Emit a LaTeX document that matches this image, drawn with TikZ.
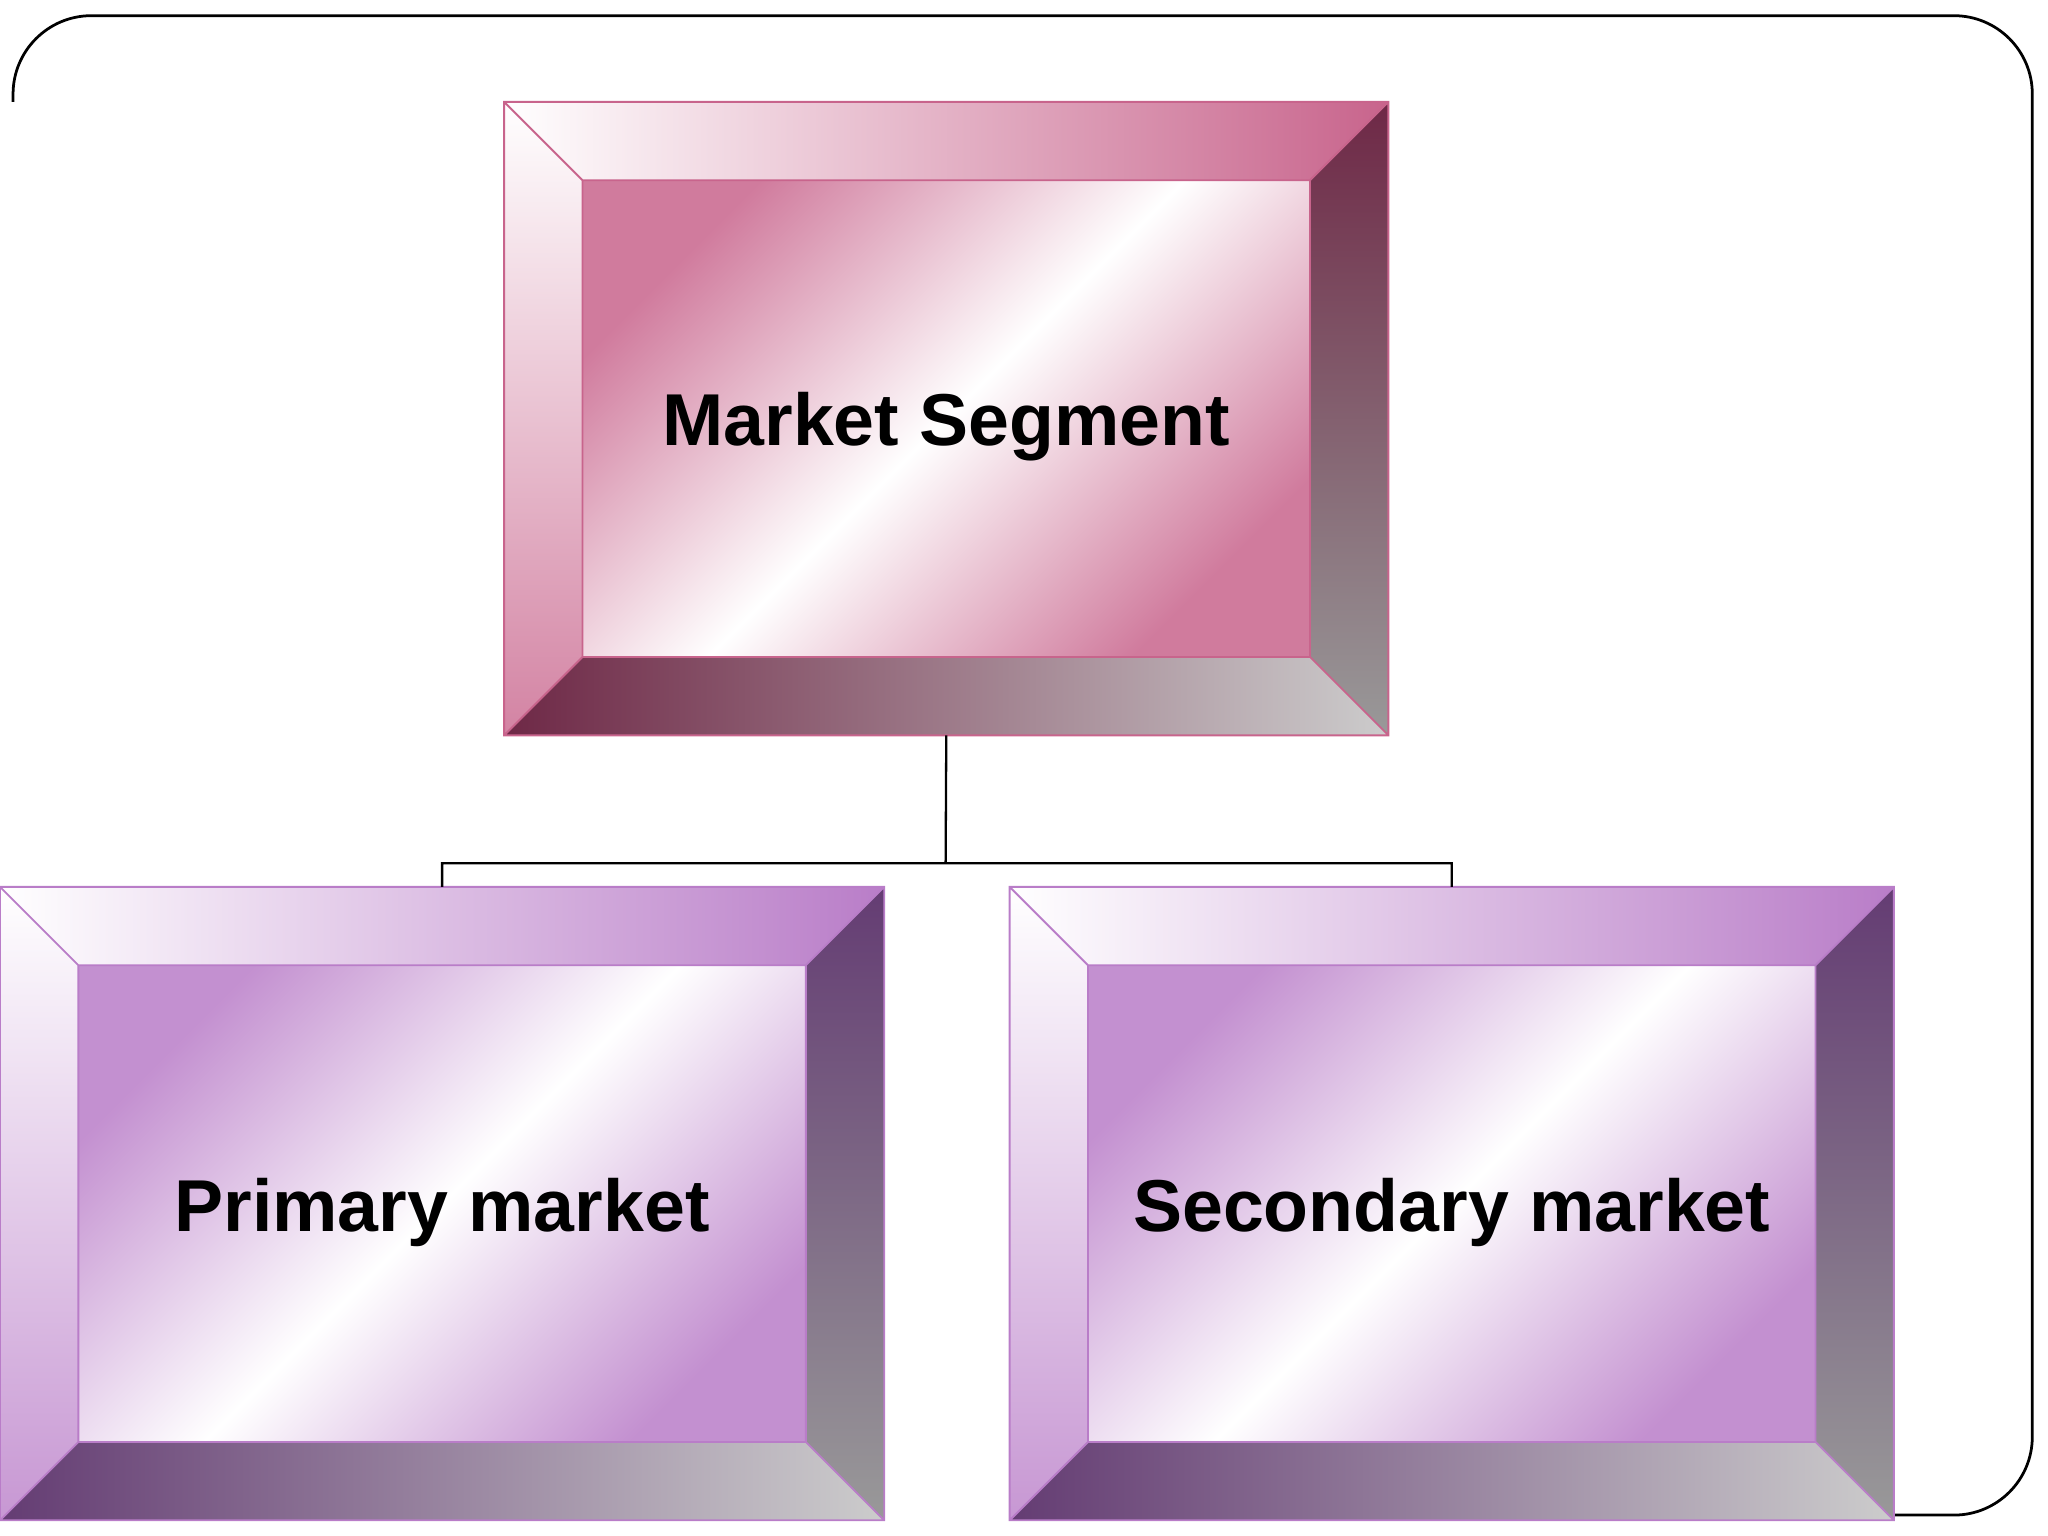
\documentclass[tikz,border=0pt]{standalone}
\usepackage{fontspec}
\setmainfont{Liberation Sans}
\begin{document}
\begin{tikzpicture}[x=0.01cm,y=-0.01cm,
  lbl/.style={font=\bfseries\fontsize{16}{19}\selectfont,text=black},
  conn/.style={draw=black,line width=0.5pt}]
\useasboundingbox (0,0) rectangle (1568,1176);
\draw[line width=0.6pt,rounded corners=0.6cm] (10,78) -- (10,12) -- (1556,12) -- (1556,1160) -- (1450,1160);
\newcommand{\bevbox}[6]{%
 \begin{scope}[shift={(#1,#2)}]
  \shade[left color=white,right color=#3] (0,0) -- (677,0) -- (617,60) -- (60,60) -- cycle;
  \shade[top color=#4,bottom color=gray!80] (677,0) -- (677,485) -- (617,425) -- (617,60) -- cycle;
  \shade[left color=#4,right color=gray!40] (0,485) -- (677,485) -- (617,425) -- (60,425) -- cycle;
  \shade[top color=white,bottom color=#3!80] (0,0) -- (60,60) -- (60,425) -- (0,485) -- cycle;
  \shade[top color=#3!85,bottom color=#3!85,middle color=white,shading angle=45] (60,60) rectangle (617,425);
  \draw[#3,line width=0.4pt] (0,0) rectangle (677,485) (60,60) rectangle (617,425)
    (0,0)--(60,60) (677,0)--(617,60) (0,485)--(60,425) (677,485)--(617,425);
  \node[lbl] (#5) at (338.5,249) {#6};
  \coordinate (#5t) at (338.5,0);
  \coordinate (#5b) at (338.5,485);
 \end{scope}}
\definecolor{pk}{RGB}{200,100,140}
\definecolor{pkd}{RGB}{110,40,70}
\definecolor{pu}{RGB}{185,125,200}
\definecolor{pud}{RGB}{100,60,115}
\bevbox{386}{78}{pk}{pkd}{ms}{Market Segment}
\bevbox{0}{679}{pu}{pud}{pm}{Primary market}
\bevbox{773}{679}{pu}{pud}{sm}{Secondary market}
\coordinate (j) at (724,661);
\draw[conn] (msb) -- (j) (pmt) |- (j) (smt) |- (j);
\end{tikzpicture}
\end{document}
